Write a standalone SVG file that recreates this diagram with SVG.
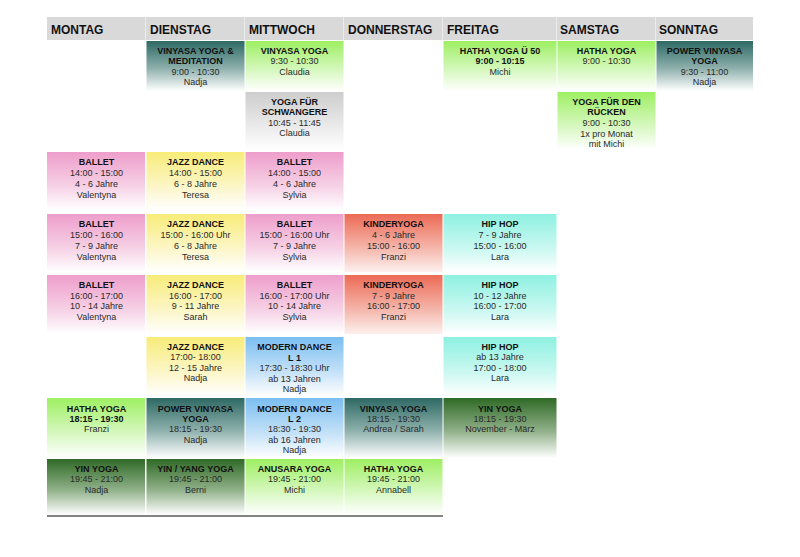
<svg xmlns="http://www.w3.org/2000/svg" width="800" height="557" viewBox="0 0 800 557">
<style>
text{font-family:"Liberation Sans",Arial,"DejaVu Sans",sans-serif;fill:#2a2a2a;font-size:9px;text-anchor:middle}
.b{font-weight:bold;fill:#111}
.h{font-size:12px;font-weight:bold;text-anchor:start;fill:#111}
.hd{fill:#d9d9d9}
</style>
<defs>
<linearGradient id="teal" x1="0" y1="0" x2="0" y2="1"><stop offset="0" stop-color="#2e6964"/><stop offset="0.55" stop-color="#8fb1ad"/><stop offset="1" stop-color="#ffffff"/></linearGradient>
<linearGradient id="lime" x1="0" y1="0" x2="0" y2="1"><stop offset="0" stop-color="#9eef62"/><stop offset="0.6" stop-color="#d8f8c2"/><stop offset="1" stop-color="#ffffff"/></linearGradient>
<linearGradient id="gray" x1="0" y1="0" x2="0" y2="1"><stop offset="0" stop-color="#cdcdcd"/><stop offset="1" stop-color="#ffffff"/></linearGradient>
<linearGradient id="pink" x1="0" y1="0" x2="0" y2="1"><stop offset="0" stop-color="#ee9ecb"/><stop offset="0.6" stop-color="#f6d2e6"/><stop offset="1" stop-color="#ffffff"/></linearGradient>
<linearGradient id="yellow" x1="0" y1="0" x2="0" y2="1"><stop offset="0" stop-color="#f8ec78"/><stop offset="0.6" stop-color="#fcf6c8"/><stop offset="1" stop-color="#ffffff"/></linearGradient>
<linearGradient id="salmon" x1="0" y1="0" x2="0" y2="1"><stop offset="0" stop-color="#ec6a55"/><stop offset="0.6" stop-color="#f5b8ad"/><stop offset="1" stop-color="#fdf0ee"/></linearGradient>
<linearGradient id="cyan" x1="0" y1="0" x2="0" y2="1"><stop offset="0" stop-color="#8ef1e1"/><stop offset="0.6" stop-color="#cbf8f1"/><stop offset="1" stop-color="#ffffff"/></linearGradient>
<linearGradient id="blue" x1="0" y1="0" x2="0" y2="1"><stop offset="0" stop-color="#7bbef1"/><stop offset="0.6" stop-color="#c6e2f8"/><stop offset="1" stop-color="#ffffff"/></linearGradient>
<linearGradient id="dkgreen" x1="0" y1="0" x2="0" y2="1"><stop offset="0" stop-color="#2f6a26"/><stop offset="0.55" stop-color="#90b089"/><stop offset="1" stop-color="#ffffff"/></linearGradient>
</defs>

<g id="header">
<rect class="hd" x="47" y="17" width="98.5" height="23"/>
<rect class="hd" x="146" y="17" width="98.5" height="23"/>
<rect class="hd" x="245" y="17" width="98.5" height="23"/>
<rect class="hd" x="344" y="17" width="98.5" height="23"/>
<rect class="hd" x="443" y="17" width="113.5" height="23"/>
<rect class="hd" x="557" y="17" width="98.5" height="23"/>
<rect class="hd" x="656" y="17" width="97" height="23"/>
<text class="h" x="51" y="33.6">MONTAG</text>
<text class="h" x="150" y="33.6">DIENSTAG</text>
<text class="h" x="249" y="33.6">MITTWOCH</text>
<text class="h" x="348" y="33.6">DONNERSTAG</text>
<text class="h" x="447" y="33.6">FREITAG</text>
<text class="h" x="560" y="33.6">SAMSTAG</text>
<text class="h" x="659" y="33.6">SONNTAG</text>
</g>

<!-- Row 1 -->
<g id="di-vinyasa-meditation"><rect x="146.5" y="41" width="98" height="50" fill="url(#teal)"/>
<text class="b" x="195.5" y="53.8">VINYASA YOGA &amp;</text><text class="b" x="195.5" y="64.3">MEDITATION</text><text x="195.5" y="74.8">9:00 - 10:30</text><text x="195.5" y="85.3">Nadja</text></g>
<g id="mi-vinyasa"><rect x="245.5" y="41" width="98" height="50" fill="url(#lime)"/>
<text class="b" x="294.5" y="53.8">VINYASA YOGA</text><text x="294.5" y="64.3">9:30 - 10:30</text><text x="294.5" y="74.8">Claudia</text></g>
<g id="fr-hatha50"><rect x="443.5" y="41" width="113" height="50" fill="url(#lime)"/>
<text class="b" x="500" y="53.8">HATHA YOGA Ü 50</text><text class="b" x="500" y="64.3">9:00 - 10:15</text><text x="500" y="74.8">Michi</text></g>
<g id="sa-hatha"><rect x="557.5" y="41" width="98" height="50" fill="url(#lime)"/>
<text class="b" x="606.5" y="53.8">HATHA YOGA</text><text x="606.5" y="64.3">9:00 - 10:30</text></g>
<g id="so-power-vinyasa"><rect x="656.5" y="41" width="96.5" height="50" fill="url(#teal)"/>
<text class="b" x="704.5" y="53.8">POWER VINYASA</text><text class="b" x="704.5" y="64.3">YOGA</text><text x="704.5" y="74.8">9:30 - 11:00</text><text x="704.5" y="85.3">Nadja</text></g>

<!-- Row 2 -->
<g id="mi-schwangere"><rect x="245.5" y="92" width="98" height="58" fill="url(#gray)"/>
<text class="b" x="294.5" y="104.8">YOGA FÜR</text><text class="b" x="294.5" y="115.3">SCHWANGERE</text><text x="294.5" y="125.8">10:45 - 11:45</text><text x="294.5" y="136.3">Claudia</text></g>
<g id="sa-ruecken"><rect x="557.5" y="92" width="98" height="58" fill="url(#lime)"/>
<text class="b" x="606.5" y="104.5">YOGA FÜR DEN</text><text class="b" x="606.5" y="115">RÜCKEN</text><text x="606.5" y="125.5">9:00 - 10:30</text><text x="606.5" y="136.5">1x pro Monat</text><text x="606.5" y="147">mit Michi</text></g>

<!-- Row 3 -->
<g id="mo-ballet-1"><rect x="47" y="152" width="98" height="58" fill="url(#pink)"/>
<text class="b" x="96.5" y="165.3">BALLET</text><text x="96.5" y="176.1">14:00 - 15:00</text><text x="96.5" y="186.9">4 - 6 Jahre</text><text x="96.5" y="197.7">Valentyna</text></g>
<g id="di-jazz-1"><rect x="146.5" y="152" width="98" height="58" fill="url(#yellow)"/>
<text class="b" x="195.5" y="165.3">JAZZ DANCE</text><text x="195.5" y="176.1">14:00 - 15:00</text><text x="195.5" y="186.9">6 - 8 Jahre</text><text x="195.5" y="197.7">Teresa</text></g>
<g id="mi-ballet-1"><rect x="245.5" y="152" width="98" height="58" fill="url(#pink)"/>
<text class="b" x="294.5" y="165.3">BALLET</text><text x="294.5" y="176.1">14:00 - 15:00</text><text x="294.5" y="186.9">4 - 6 Jahre</text><text x="294.5" y="197.7">Sylvia</text></g>

<!-- Row 4 -->
<g id="mo-ballet-2"><rect x="47" y="214" width="98" height="58" fill="url(#pink)"/>
<text class="b" x="96.5" y="227.3">BALLET</text><text x="96.5" y="238.1">15:00 - 16:00</text><text x="96.5" y="248.9">7 - 9 Jahre</text><text x="96.5" y="259.7">Valentyna</text></g>
<g id="di-jazz-2"><rect x="146.5" y="214" width="98" height="58" fill="url(#yellow)"/>
<text class="b" x="195.5" y="227.3">JAZZ DANCE</text><text x="195.5" y="238.1">15:00 - 16:00 Uhr</text><text x="195.5" y="248.9">6 - 8 Jahre</text><text x="195.5" y="259.7">Teresa</text></g>
<g id="mi-ballet-2"><rect x="245.5" y="214" width="98" height="58" fill="url(#pink)"/>
<text class="b" x="294.5" y="227.3">BALLET</text><text x="294.5" y="238.1">15:00 - 16:00 Uhr</text><text x="294.5" y="248.9">7 - 9 Jahre</text><text x="294.5" y="259.7">Sylvia</text></g>
<g id="do-kinderyoga-1"><rect x="344.5" y="214" width="98" height="58" fill="url(#salmon)"/>
<text class="b" x="393.5" y="227.3">KINDERYOGA</text><text x="393.5" y="238.1">4 - 6 Jahre</text><text x="393.5" y="248.9">15:00 - 16:00</text><text x="393.5" y="259.7">Franzi</text></g>
<g id="fr-hiphop-1"><rect x="443.5" y="214" width="113" height="58" fill="url(#cyan)"/>
<text class="b" x="500" y="227.3">HIP HOP</text><text x="500" y="238.1">7 - 9 Jahre</text><text x="500" y="248.9">15:00 - 16:00</text><text x="500" y="259.7">Lara</text></g>

<!-- Row 5 -->
<g id="mo-ballet-3"><rect x="47" y="275" width="98" height="59" fill="url(#pink)"/>
<text class="b" x="96.5" y="288">BALLET</text><text x="96.5" y="298.6">16:00 - 17:00</text><text x="96.5" y="309.2">10 - 14 Jahre</text><text x="96.5" y="319.8">Valentyna</text></g>
<g id="di-jazz-3"><rect x="146.5" y="275" width="98" height="59" fill="url(#yellow)"/>
<text class="b" x="195.5" y="288">JAZZ DANCE</text><text x="195.5" y="298.6">16:00 - 17:00</text><text x="195.5" y="309.2">9 - 11 Jahre</text><text x="195.5" y="319.8">Sarah</text></g>
<g id="mi-ballet-3"><rect x="245.5" y="275" width="98" height="59" fill="url(#pink)"/>
<text class="b" x="294.5" y="288">BALLET</text><text x="294.5" y="298.6">16:00 - 17:00 Uhr</text><text x="294.5" y="309.2">10 - 14 Jahre</text><text x="294.5" y="319.8">Sylvia</text></g>
<g id="do-kinderyoga-2"><rect x="344.5" y="275" width="98" height="59" fill="url(#salmon)"/>
<text class="b" x="393.5" y="288">KINDERYOGA</text><text x="393.5" y="298.6">7 - 9 Jahre</text><text x="393.5" y="309.2">16:00 - 17:00</text><text x="393.5" y="319.8">Franzi</text></g>
<g id="fr-hiphop-2"><rect x="443.5" y="275" width="113" height="59" fill="url(#cyan)"/>
<text class="b" x="500" y="288">HIP HOP</text><text x="500" y="298.6">10 - 12 Jahre</text><text x="500" y="309.2">16:00 - 17:00</text><text x="500" y="319.8">Lara</text></g>

<!-- Row 6 -->
<g id="di-jazz-4"><rect x="146.5" y="337" width="98" height="59" fill="url(#yellow)"/>
<text class="b" x="195.5" y="349.5">JAZZ DANCE</text><text x="195.5" y="360.1">17:00- 18:00</text><text x="195.5" y="370.7">12 - 15 Jahre</text><text x="195.5" y="381.3">Nadja</text></g>
<g id="mi-modern-1"><rect x="245.5" y="337" width="98" height="59" fill="url(#blue)"/>
<text class="b" x="294.5" y="349.5">MODERN DANCE</text><text class="b" x="294.5" y="360.6">L 1</text><text x="294.5" y="371">17:30 - 18:30 Uhr</text><text x="294.5" y="381.8">ab 13 Jahren</text><text x="294.5" y="392">Nadja</text></g>
<g id="fr-hiphop-3"><rect x="443.5" y="337" width="113" height="59" fill="url(#cyan)"/>
<text class="b" x="500" y="349.5">HIP HOP</text><text x="500" y="360.1">ab 13 Jahre</text><text x="500" y="370.7">17:00 - 18:00</text><text x="500" y="381.3">Lara</text></g>

<!-- Row 7 -->
<g id="mo-hatha"><rect x="47" y="398" width="98" height="60" fill="url(#lime)"/>
<text class="b" x="96.5" y="411.6">HATHA YOGA</text><text class="b" x="96.5" y="421.8">18:15 - 19:30</text><text x="96.5" y="432">Franzi</text></g>
<g id="di-power-vinyasa"><rect x="146.5" y="398" width="98" height="60" fill="url(#teal)"/>
<text class="b" x="195.5" y="411.6">POWER VINYASA</text><text class="b" x="195.5" y="421.8">YOGA</text><text x="195.5" y="432.2">18:15 - 19:30</text><text x="195.5" y="442.6">Nadja</text></g>
<g id="mi-modern-2"><rect x="245.5" y="398" width="98" height="60" fill="url(#blue)"/>
<text class="b" x="294.5" y="411.6">MODERN DANCE</text><text class="b" x="294.5" y="421.8">L 2</text><text x="294.5" y="432.2">18:30 - 19:30</text><text x="294.5" y="442.6">ab 16 Jahren</text><text x="294.5" y="453">Nadja</text></g>
<g id="do-vinyasa"><rect x="344.5" y="398" width="98" height="60" fill="url(#teal)"/>
<text class="b" x="393.5" y="411.6">VINYASA YOGA</text><text x="393.5" y="421.8">18:15 - 19:30</text><text x="393.5" y="432">Andrea / Sarah</text></g>
<g id="fr-yin"><rect x="443.5" y="398" width="113" height="60" fill="url(#dkgreen)"/>
<text class="b" x="500" y="411.6">YIN YOGA</text><text x="500" y="421.8">18:15 - 19:30</text><text x="500" y="432">November - März</text></g>

<!-- Row 8 -->
<g id="mo-yin"><rect x="47" y="459" width="98" height="56" fill="url(#dkgreen)"/>
<text class="b" x="96.5" y="472">YIN YOGA</text><text x="96.5" y="482.4">19:45 - 21:00</text><text x="96.5" y="492.8">Nadja</text></g>
<g id="di-yinyang"><rect x="146.5" y="459" width="98" height="56" fill="url(#dkgreen)"/>
<text class="b" x="195.5" y="472">YIN / YANG YOGA</text><text x="195.5" y="482.4">19:45 - 21:00</text><text x="195.5" y="492.8">Berni</text></g>
<g id="mi-anusara"><rect x="245.5" y="459" width="98" height="56" fill="url(#lime)"/>
<text class="b" x="294.5" y="472">ANUSARA YOGA</text><text x="294.5" y="482.4">19:45 - 21:00</text><text x="294.5" y="492.8">Michi</text></g>
<g id="do-hatha"><rect x="344.5" y="459" width="98" height="56" fill="url(#lime)"/>
<text class="b" x="393.5" y="472">HATHA YOGA</text><text x="393.5" y="482.4">19:45 - 21:00</text><text x="393.5" y="492.8">Annabell</text></g>

<g id="connectors">
<line x1="47" y1="516" x2="443" y2="516" stroke="#5a5a5a" stroke-width="1.6"/>
</g>
</svg>
